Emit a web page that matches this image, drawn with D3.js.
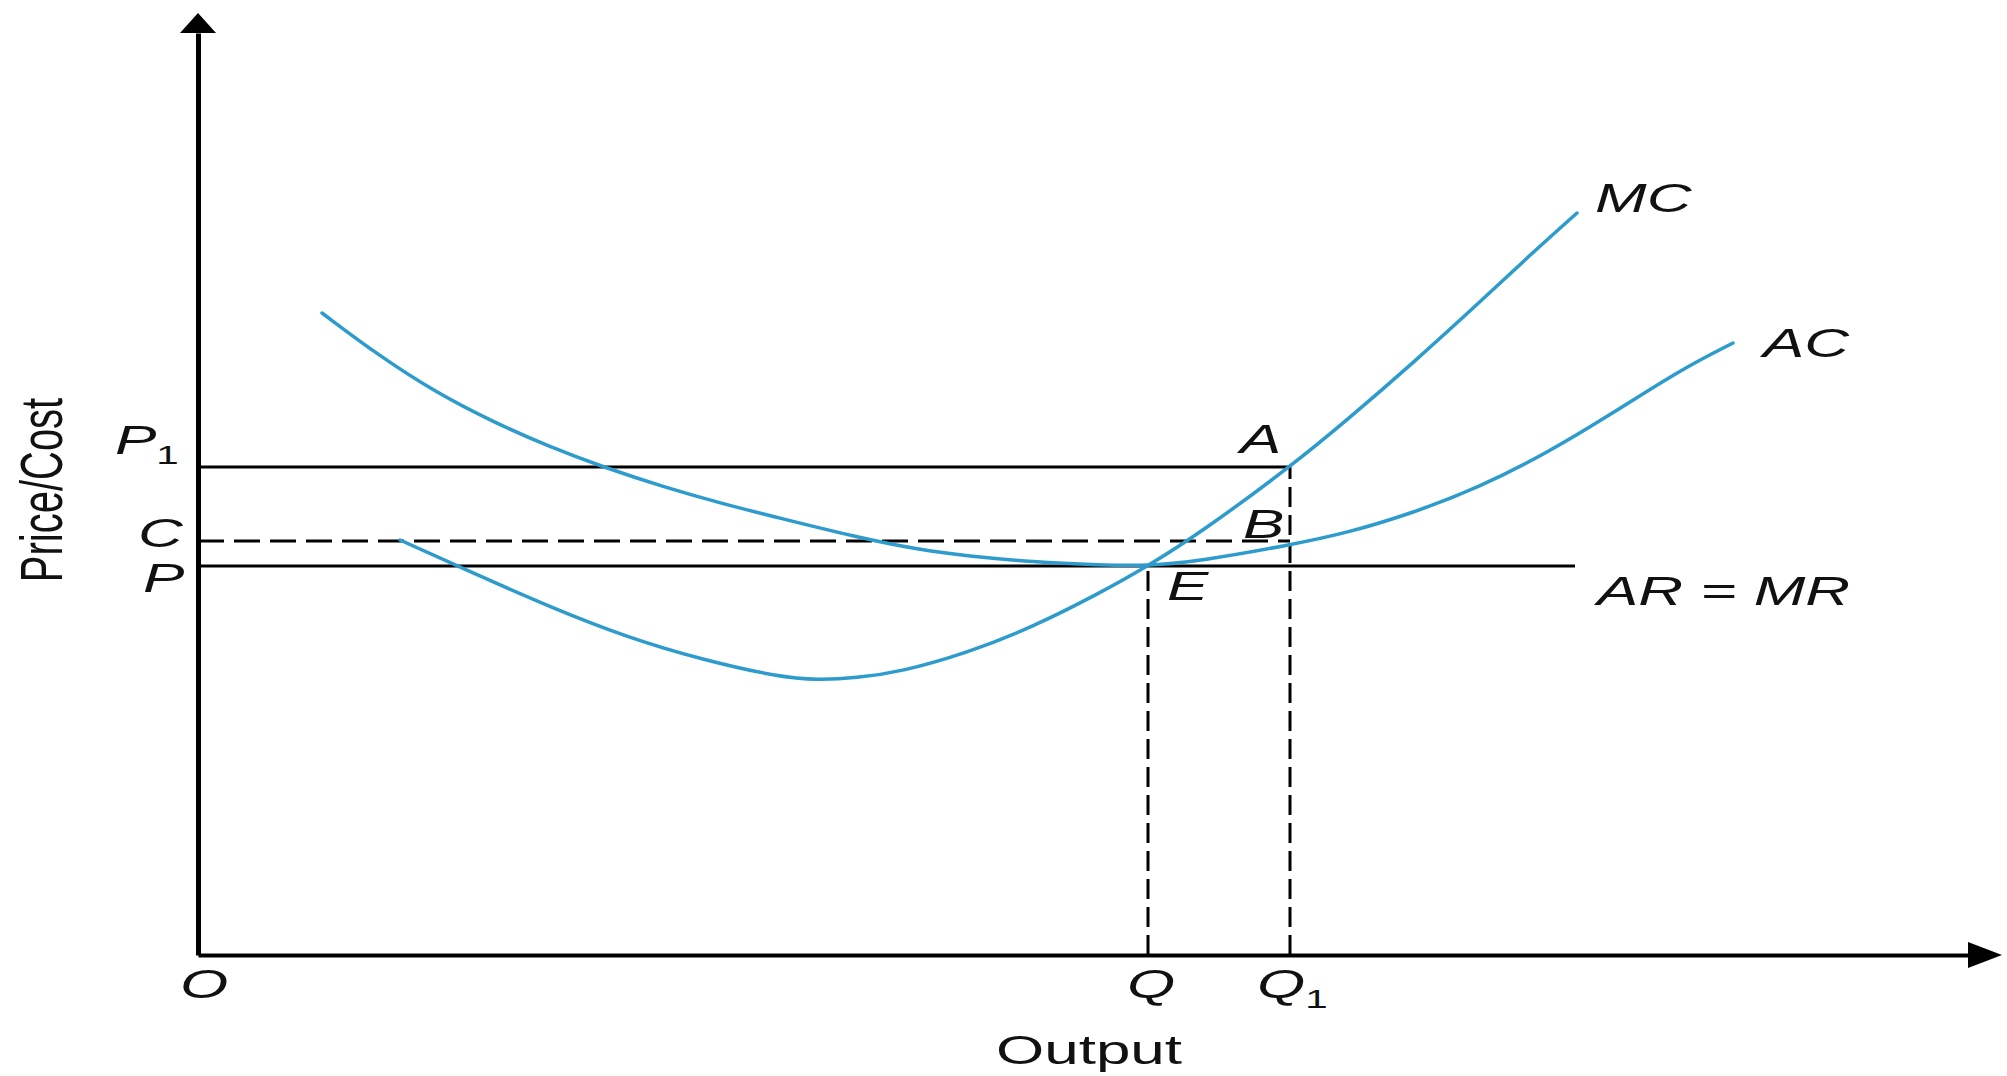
<!DOCTYPE html>
<html>
<head>
<meta charset="utf-8">
<script src="https://cdn.jsdelivr.net/npm/d3@7"></script>
<style>
  html, body { margin: 0; padding: 0; background: #fff; }
  svg { display: block; }
  text { font-family: "Liberation Sans", Arial, sans-serif; fill: #111; }
</style>
</head>
<body>
<svg id="chart" width="2007" height="1076"></svg>
<script>
// ---- data (output units along x, price/cost units along y) ----
const mcX = [202, 275, 352, 428, 505, 581, 620, 658, 702, 769, 835, 902, 950, 1002, 1092, 1149, 1215, 1282, 1332, 1379];
const mcY = [415, 382, 348, 318, 295, 278, 275, 277, 283, 302, 328, 362, 389, 422, 488, 535, 592, 653, 700, 742];

const acX = [124, 180, 237, 295, 352, 405, 466, 522, 581, 658, 722, 769, 835, 902, 950, 1002, 1092, 1149, 1215, 1282, 1349, 1415, 1482, 1535];
const acY = [642, 600, 563, 533, 508, 488, 468, 452, 437, 418, 405, 399, 393, 390, 389, 394, 410, 422, 442, 468, 502, 542, 585, 612];

const priceLevels = ["P1", "C", "P"];
const priceValues = [488, 414, 389];
const outputLevels = ["Q", "Q1"];
const outputValues = [950, 1092];
const arEnd = 1377;        // AR = MR line extends to this output
const xMax = 1770, yMax = 922;

// ---- scales ----
const x = d3.scaleLinear().domain([0, xMax]).range([198, 1968]);
const y = d3.scaleLinear().domain([0, yMax]).range([955, 33]);

const svg = d3.select("#chart");
const SX = 1.55; // horizontal stretch of the lettering

function label(str, px, py, opts = {}) {
  const t = svg.append("text")
    .attr("transform", `translate(${px},${py}) scale(${SX},1)`)
    .attr("font-size", opts.size || 40)
    .attr("font-style", opts.italic === false ? "normal" : "italic")
    .attr("text-anchor", opts.anchor || "start");
  t.append("tspan").text(str);
  if (opts.sub) {
    t.append("tspan").text(opts.sub).attr("font-size", 26).attr("font-style", "normal").attr("dy", 10);
  }
  return t;
}

// ---- axes ----
const xAxis = d3.axisBottom(x).tickValues([]).tickSizeOuter(0);
const yAxis = d3.axisLeft(y).tickValues([]).tickSizeOuter(0);
svg.append("g").attr("transform", `translate(0,${y(0)})`).call(xAxis)
  .select(".domain").attr("stroke", "#000").attr("stroke-width", 4);
svg.append("g").attr("transform", `translate(${x(0)},0)`).call(yAxis)
  .select(".domain").attr("stroke", "#000").attr("stroke-width", 5);
// arrowheads
svg.append("path")
  .attr("d", `M${x(xMax)},${y(0) - 13} L${x(xMax) + 34},${y(0)} L${x(xMax)},${y(0) + 13} Z`)
  .attr("fill", "#000");
svg.append("path")
  .attr("d", `M${x(0) - 18},${y(yMax)} L${x(0)},${y(yMax) - 20} L${x(0) + 18},${y(yMax)} Z`)
  .attr("fill", "#000");

// ---- reference lines ----
const lineG = svg.append("g").attr("stroke", "#000").attr("stroke-width", 3).attr("fill", "none");
// P1 (solid) to Q1
lineG.append("line").attr("x1", x(0)).attr("x2", x(outputValues[1]))
  .attr("y1", y(priceValues[0])).attr("y2", y(priceValues[0]));
// C (dashed) to Q1
lineG.append("line").attr("x1", x(0)).attr("x2", x(outputValues[1]))
  .attr("y1", y(priceValues[1])).attr("y2", y(priceValues[1]))
  .attr("stroke-dasharray", "26,10");
// P = AR = MR (solid)
lineG.append("line").attr("x1", x(0)).attr("x2", x(arEnd))
  .attr("y1", y(priceValues[2])).attr("y2", y(priceValues[2]));
// Q vertical (dashed) up to P
lineG.append("line").attr("x1", x(outputValues[0])).attr("x2", x(outputValues[0]))
  .attr("y1", y(0)).attr("y2", y(priceValues[2]))
  .attr("stroke-dasharray", "20,8");
// Q1 vertical (dashed) up to P1
lineG.append("line").attr("x1", x(outputValues[1])).attr("x2", x(outputValues[1]))
  .attr("y1", y(0)).attr("y2", y(priceValues[0]))
  .attr("stroke-dasharray", "20,8");

// ---- curves ----
const line = d3.line().x(d => x(d[0])).y(d => y(d[1])).curve(d3.curveBasis);
const mc = d3.zip(mcX, mcY);
const ac = d3.zip(acX, acY);
svg.append("path").attr("d", line(mc)).attr("fill", "none")
  .attr("stroke", "#2d9bcc").attr("stroke-width", 3.5).attr("stroke-linecap", "round");
svg.append("path").attr("d", line(ac)).attr("fill", "none")
  .attr("stroke", "#2d9bcc").attr("stroke-width", 3.5).attr("stroke-linecap", "round");

// ---- labels ----
label("MC", x(mcX[mcX.length - 1]) + 18, y(mcY[mcY.length - 1]) - 1);
label("AC", x(acX[acX.length - 1]) + 30, y(acY[acY.length - 1]) + 14);
label("AR = MR", x(arEnd) + 22, y(priceValues[2]) + 39);
label("A", x(outputValues[1]) - 50, y(priceValues[0]) - 14);
label("B", x(outputValues[1]) - 47, y(priceValues[1]) - 3);
label("E", x(outputValues[0]) + 19, y(priceValues[2]) + 34);
label("O", x(0) - 18, y(0) + 43);
label("Q", x(outputValues[0]) - 21, y(0) + 43);
label("Q", x(outputValues[1]) - 33, y(0) + 43, { sub: "1" });
label("P", x(0) - 83, y(priceValues[0]) - 13, { sub: "1" });
label("C", x(0) - 60, y(priceValues[1]) + 6);
label("P", x(0) - 55, y(priceValues[2]) + 26);
label("Output", 996, 1064, { italic: false, size: 40 });
svg.append("text")
  .attr("transform", `translate(62,490) rotate(-90) scale(1,1.48)`)
  .attr("font-size", 40).attr("text-anchor", "middle")
  .text("Price/Cost");
</script>
</body>
</html>
